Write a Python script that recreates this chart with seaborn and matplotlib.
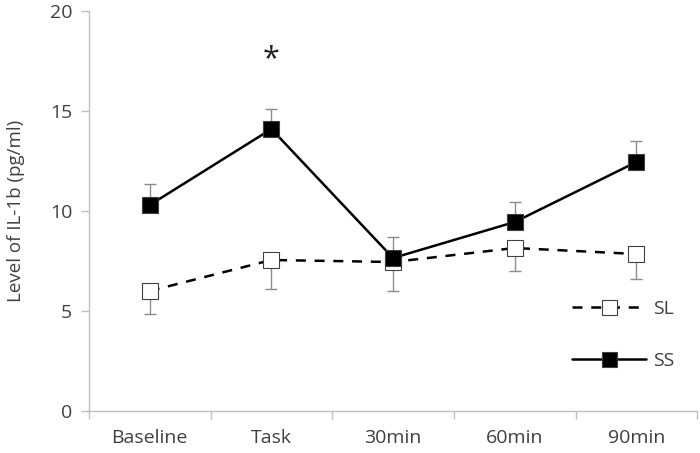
import pandas as pd
import matplotlib.pyplot as plt
import seaborn as sns
from matplotlib.ticker import FixedLocator

# time points and IL-1b levels (pg/ml)
times = ["Baseline", "Task", "30min", "60min", "90min"]
sl_mean = [6.0, 7.55, 7.45, 8.15, 7.85]
sl_err = [1.15, 1.45, 1.45, 1.15, 1.25]
ss_mean = [10.3, 14.1, 7.65, 9.45, 12.45]
ss_err = [1.05, 1.0, 1.05, 1.0, 1.05]
star_time = "Task"
star_level = 17.6

sns.set_style("white")
plt.rcParams["font.family"] = ["Open Sans", "DejaVu Sans"]

df = pd.DataFrame({"time": times, "SL": sl_mean, "SS": ss_mean})

fig = plt.figure(figsize=(7, 4.53), dpi=100)
ax = fig.add_axes([0.127, 0.0927, 0.869, 0.883])

grey = "#8c8c8c"
txt = "#404040"
pos = list(range(len(times)))

# one-sided error bars: SL downward, SS upward
ax.errorbar(pos, sl_mean, yerr=[sl_err, [0] * len(sl_err)], fmt="none",
            ecolor=grey, elinewidth=1, capsize=4.5, capthick=1, zorder=1)
ax.errorbar(pos, ss_mean, yerr=[[0] * len(ss_err), ss_err], fmt="none",
            ecolor=grey, elinewidth=1, capsize=4.5, capthick=1, zorder=1)

sns.lineplot(data=df, x="time", y="SL", ax=ax, color="black", linewidth=1.8,
             marker="s", markersize=12, markerfacecolor="white",
             markeredgecolor="#404040", markeredgewidth=0.8, label="SL",
             zorder=2, sort=False)
ax.lines[-1].set_dashes((4, 3.5))
sns.lineplot(data=df, x="time", y="SS", ax=ax, color="black", linewidth=1.8,
             marker="s", markersize=12, markerfacecolor="black",
             markeredgecolor="#404040", markeredgewidth=0.8, label="SS",
             zorder=3, sort=False)

ax.text(times.index(star_time), star_level, "*", ha="center", va="center",
        fontsize=22, color="#222222")

ax.set_xlim(-0.5, len(times) - 0.5)
ax.set_ylim(0, 20)
ax.set_yticks([0, 5, 10, 15, 20])
ax.set_xlabel("")
ax.set_ylabel("Level of IL-1b (pg/ml)", fontsize=13.5, color=txt)
ax.yaxis.set_label_coords(-0.105, 0.5)

ax.xaxis.set_minor_locator(FixedLocator([p + 0.5 for p in [-1] + pos]))
ax.tick_params(axis="x", which="major", length=0, labelsize=14,
               labelcolor=txt, pad=13)
ax.tick_params(axis="x", which="minor", length=6, width=1, color="#bfbfbf",
               direction="out", bottom=True)
ax.tick_params(axis="y", length=6, width=1, color="#bfbfbf", direction="out",
               left=True, labelsize=14, labelcolor=txt, pad=6)

for side in ["top", "right"]:
    ax.spines[side].set_visible(False)
for side in ["left", "bottom"]:
    ax.spines[side].set_color("#bfbfbf")
    ax.spines[side].set_linewidth(1)

ax.legend(loc="center left", bbox_to_anchor=(0.765, 0.19), frameon=False,
          fontsize=14, handlelength=3.8, labelspacing=1.75, handletextpad=0.4,
          labelcolor=txt, markerscale=0.9)

fig.savefig("out.png", dpi=100)
